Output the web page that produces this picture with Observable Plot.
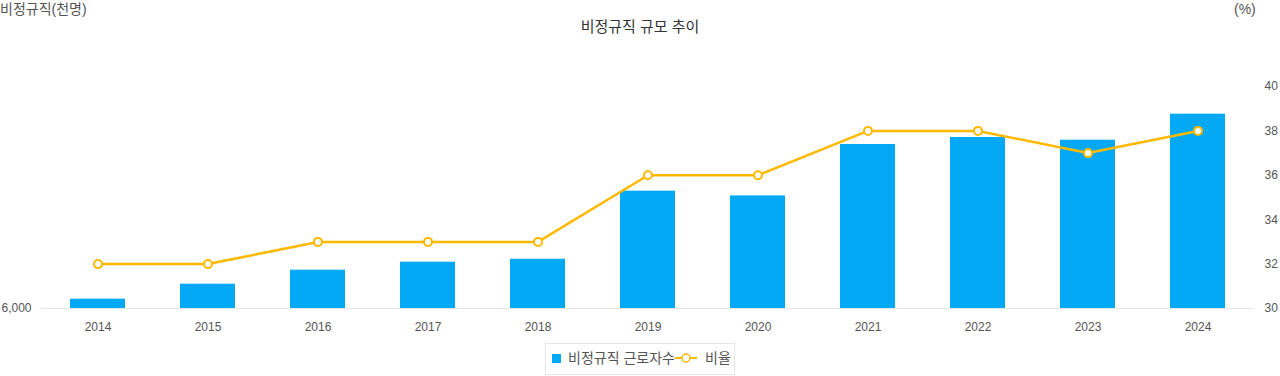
<!DOCTYPE html>
<html><head><meta charset="utf-8">
<script src="https://cdn.jsdelivr.net/npm/d3@7"></script>
<script src="https://cdn.jsdelivr.net/npm/@observablehq/plot@0.6"></script>
<style>
html,body{margin:0;padding:0;background:#fff;}
body{width:1280px;height:376px;position:relative;overflow:hidden;font-family:"Liberation Sans","Noto Sans CJK KR",sans-serif;}
.t{position:absolute;white-space:nowrap;color:#555;font-size:14px;line-height:16px;}
#chart{position:absolute;left:0;top:0;}
#legend{position:absolute;left:545px;top:343px;width:190px;height:32px;border:1px solid #e6e6e6;box-sizing:border-box;font-size:14px;color:#555;}
</style></head><body>
<div id="chart"></div>
<div class="t" style="left:0;top:1px;">비정규직(천명)</div>
<div class="t" style="left:1234px;top:1px;">(%)</div>
<div class="t" style="left:0;width:1280px;text-align:center;top:19px;color:#333;font-size:15px;">비정규직 규모 추이</div>
<div id="legend">
  <div style="position:absolute;left:6px;top:10px;width:9px;height:9px;background:#03A9F4;"></div>
  <div class="t" style="left:22px;top:6px;">비정규직 근로자수</div>
  <svg style="position:absolute;left:129px;top:6px;" width="22" height="16"><line x1="0" y1="8" x2="22" y2="8" stroke="#FFB900" stroke-width="2"/><circle cx="11" cy="8" r="4" fill="#fff" stroke="#FFB900" stroke-width="1.5"/></svg>
  <div class="t" style="left:159px;top:6px;">비율</div>
</div>
<script>
const years = ["2014","2015","2016","2017","2018","2019","2020","2021","2022","2023","2024"];
const workers = [6120, 6313, 6493, 6596, 6634, 7510, 7449, 8111, 8201, 8166, 8501];
const ratio = [32, 32, 33, 33, 33, 36, 36, 38, 38, 37, 38];
const leftMin = 6000, leftMax = 8857;
const rightMin = 30, rightMax = 40;
const rightTicks = [30, 32, 34, 36, 38, 40];

const toLeft = p => leftMin + (p - rightMin) / (rightMax - rightMin) * (leftMax - leftMin);
const fromLeft = v => rightMin + (v - leftMin) / (leftMax - leftMin) * (rightMax - rightMin);

const data = years.map((y, i) => ({year: y, workers: workers[i], ratio: ratio[i], ry: toLeft(ratio[i])}));

const chart = Plot.plot({
  width: 1280, height: 376,
  marginTop: 86, marginBottom: 68, marginLeft: 41, marginRight: 27,
  style: {fontFamily: '"Liberation Sans","Noto Sans CJK KR",sans-serif', fontSize: "12px", color: "#555", background: "transparent"},
  x: {domain: years, paddingInner: 0.5, paddingOuter: 0.25, align: 0.5, label: null},
  y: {domain: [leftMin, leftMax], label: null},
  marks: [
    Plot.ruleY([leftMin], {stroke: "#e6e6e6", strokeWidth: 1}),
    Plot.barY(data, {x: "year", y1: leftMin, y2: "workers", fill: "#03A9F4"}),
    Plot.line(data, {x: "year", y: "ry", stroke: "#FFB900", strokeWidth: 2.5}),
    Plot.dot(data, {x: "year", y: "ry", r: 4, fill: "#fff", stroke: "#FFB900", strokeWidth: 2}),
    Plot.axisX({tickSize: 0, tickPadding: 14, fontSize: 12, label: null}),
    Plot.axisY([leftMin], {anchor: "left", tickSize: 0, tickPadding: 10, tickFormat: d => d3.format(",")(d), label: null, fontSize: 12}),
    Plot.axisY(rightTicks.map(toLeft), {anchor: "right", tickSize: 0, tickPadding: 11, tickFormat: v => Math.round(fromLeft(v)), label: null, fontSize: 12})
  ]
});
document.getElementById("chart").appendChild(chart);
</script>
</body></html>
